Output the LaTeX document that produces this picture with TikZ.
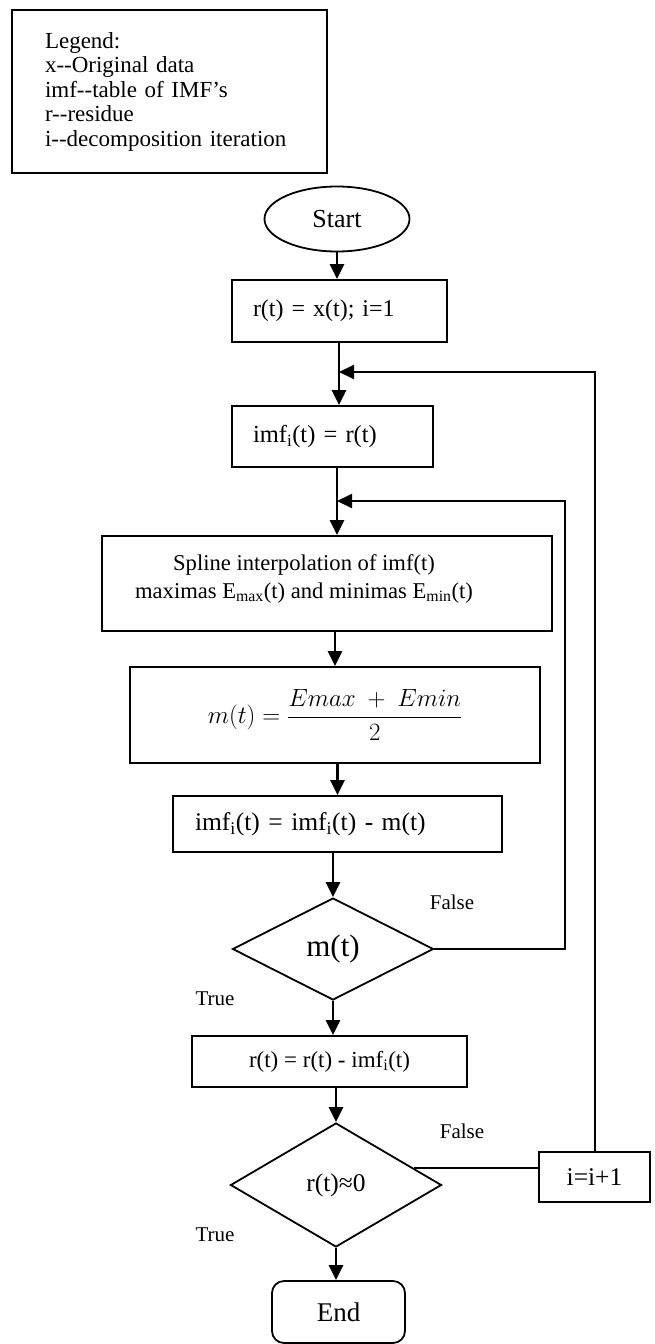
\documentclass[tikz,border=0pt]{standalone}
\usepackage{amsmath}
\usepackage{fontspec}
\setmainfont{Liberation Serif}
\usetikzlibrary{positioning,shapes.geometric,arrows.meta}

\tikzset{
  box/.style={draw, line width=1.8pt, rectangle, inner sep=0pt},
  flow/.style={line width=2.6pt, -{Triangle[length=15pt,width=14pt]}},
  back/.style={line width=2pt, -{Triangle[length=15pt,width=14pt]}},
  plain/.style={line width=2pt},
  tag/.style={font=\fontsize{21}{24}\selectfont, inner sep=0pt},
}

\begin{document}
\begin{tikzpicture}[x=1pt,y=-1pt]
\useasboundingbox (0,0) rectangle (654,1344);

% Legend
\node[box, minimum width=315pt, minimum height=163pt, text width=249pt, inner xsep=33pt,
  align=left, font=\fontsize{23}{24.5}\selectfont] (legend) at (169.5,91.5)
  {Legend:\\ x-{}-Original data\\ imf-{}-table of IMF's\\ r-{}-residue\\ i-{}-decomposition iteration};

% Main column
\node[draw, ellipse, line width=1.8pt, minimum width=145pt, minimum height=65pt, inner sep=0pt,
  font=\fontsize{26}{30}\selectfont] (start) at (337,219) {Start};
\node[box, minimum height=62pt, text width=173pt, inner xsep=21pt, align=left,
  font=\fontsize{24}{28}\selectfont] (init) at (339.5,311) {r(t) = x(t); i=1};
\node[box, minimum height=61pt, text width=159pt, inner xsep=21pt, align=left,
  font=\fontsize{24.5}{28}\selectfont] (imf) at (332.5,436.5) {imf\textsubscript{i}(t) = r(t)};
\node[box, minimum width=450pt, minimum height=95pt,
  label={[xshift=-23pt, yshift=4.5pt, align=center, font=\fontsize{22.6}{28}\selectfont]center:{Spline interpolation of imf(t)\\ maximas E\textsubscript{max}(t) and minimas E\textsubscript{min}(t)}}]
  (spline) at (327,583.5) {};
\node[box, minimum width=410pt, minimum height=96pt, font=\fontsize{25}{30}\selectfont]
  (mean) at (335,715) {$m(t) = \dfrac{Emax\ +\ Emin}{2}$};
\node[box, minimum height=56pt, text width=285pt, inner xsep=22pt, align=left,
  font=\fontsize{25.5}{30}\selectfont] (update) at (337.5,824)
  {imf\textsubscript{i}(t) = imf\textsubscript{i}(t) - m(t)};
\node[draw, diamond, line width=1.8pt, minimum width=201pt, minimum height=102pt, inner sep=0pt,
  font=\fontsize{31}{34}\selectfont] (check1) at (333,949) {m(t)};
\node[box, minimum width=275pt, minimum height=51pt, font=\fontsize{23}{28}\selectfont]
  (resid) at (329.5,1061.5) {r(t) = r(t) - imf\textsubscript{i}(t)};
\node[draw, diamond, line width=1.8pt, minimum width=211pt, minimum height=124pt, inner sep=0pt,
  font=\fontsize{25.5}{30}\selectfont] (check2) at (336,1185) {r(t)≈0};
\node[box, minimum width=111pt, minimum height=50pt, font=\fontsize{25.5}{30}\selectfont]
  (inc) at (594.5,1177) {i=i+1};
\node[box, rounded corners=12pt, minimum width=133pt, minimum height=62pt,
  font=\fontsize{27}{30}\selectfont] (stop) at (338.5,1312) {End};

% Branch labels
\node[tag] (false1) at (452,902) {False};
\node[tag] (true1) at (215,999) {True};
\node[tag] (false2) at (462,1131) {False};
\node[tag] (true2) at (215,1235) {True};

% Join points of the loops
\coordinate (join1) at (339,372);
\coordinate (join2) at (337,501);
\coordinate (inner) at (565,501);

% Arrows
\draw[flow] (start.south) -- (start.south |- init.north);
\draw[flow] (init.south -| join1) -- (join1 |- imf.north);
\draw[flow] (imf.south -| join2) -- (join2 |- spline.north);
\foreach \a/\b in {spline/mean, mean/update, update/check1, resid/check2}
  \draw[flow] (\b.north |- \a.south) -- (\b.north);
\draw[flow] (check1.south) -- (check1.south |- resid.north);
\draw[flow] (check2.south) -- (check2.south |- stop.north);

% Loops back
\draw[back] (check1.east) -| (inner) -- (join2);
\draw[plain] (check2.12) -- (check2.12 -| inc.west);
\draw[back] (inc.north) |- (join1);
\end{tikzpicture}
\end{document}
